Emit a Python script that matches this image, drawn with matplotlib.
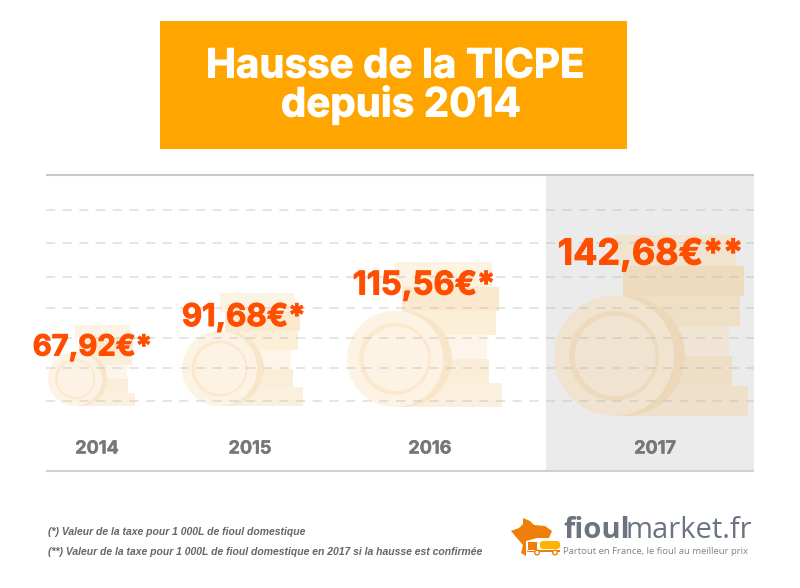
import matplotlib
matplotlib.use("Agg")
import matplotlib.pyplot as plt
import matplotlib.patheffects as pe
from matplotlib.patches import Rectangle, Circle, Polygon, FancyBboxPatch

years = ["2014", "2015", "2016", "2017"]
values = [67.92, 91.68, 115.56, 142.68]
suffixes = ["€*", "€*", "€*", "€**"]
title_lines = ["Hausse de la TICPE", "depuis 2014"]
notes = ["(*) Valeur de la taxe pour 1 000L de fioul domestique",
         "(**) Valeur de la taxe pour 1 000L de fioul domestique en 2017 si la hausse est confirmée"]

# layout in reference pixels
stack_left = [48, 182, 347, 554]
stack_base = [406, 406, 407, 416]
year_x = [97, 250, 430, 655]
label_x = [92.5, 243.5, 424, 650.5]
label_y = [348, 318, 286, 255]
label_size = [21, 22.5, 23.5, 25.8]
grid_y = [210, 243, 277, 308, 338, 368, 401]

FONT = "Inter"
ORANGE = "#FFA500"
RED = "#FF4E00"
GREY = "#777777"

fig = plt.figure(figsize=(8, 5.88), dpi=100)
ax = fig.add_axes([0, 0, 1, 1])
ax.set_xlim(0, 800)
ax.set_ylim(588, 0)
ax.axis("off")


def height_of(v):
    return 1.33 * v - 9


def tint(col, on_grey):
    rgb = matplotlib.colors.to_rgb(col)
    if on_grey:
        return (rgb[0] * .949, rgb[1] * .934, rgb[2] * .912)
    return rgb


def heavy(w, col):
    return [pe.withStroke(linewidth=w, foreground=col)]


# title box
ax.add_patch(Rectangle((160, 21), 467, 128, color=ORANGE, lw=0))
ax.text(395, 67, title_lines[0], color="white", fontsize=29, fontweight="bold",
        family=FONT, ha="center", va="center", path_effects=heavy(0.7, "white"))
ax.text(401, 105, title_lines[1], color="white", fontsize=29, fontweight="bold",
        family=FONT, ha="center", va="center", path_effects=heavy(0.7, "white"))

# highlighted band and rules
ax.add_patch(Rectangle((546, 176), 208, 295, color="#EBEBEB", lw=0, zorder=1))
ax.plot([46, 754], [175, 175], color="#C8C8C8", lw=1.5, zorder=2, solid_capstyle="butt")
ax.plot([46, 754], [471, 471], color="#D0D0D0", lw=1.5, zorder=2, solid_capstyle="butt")

# stack template: (x0, x1, y0, y1, colour), relative to stack height
layers = [
    (.335, 1.071, .000, .165, "#FBF0DE"),
    (.335, .984, .165, .330, "#FBEED8"),
    (.335, .967, .330, .500, "#FDF5EA"),
    (.434, 1.027, .500, .665, "#FCEFD8"),
    (.379, 1.049, .665, .830, "#FBE9CF"),
    (.335, 1.005, .830, 1.000, "#FDF3E3"),
]

for i, v in enumerate(values):
    H = height_of(v)
    x0, base = stack_left[i], stack_base[i]
    g = years[i] == "2017"
    for a, b, c, d, col in layers:
        ax.add_patch(Rectangle((x0 + a * H, base - d * H), (b - a) * H, (d - c) * H,
                               color=tint(col, g), lw=0, zorder=3))
    R = .3325 * H
    cy = base - R
    ax.add_patch(Circle((x0 + R + .06 * H, cy), R, color=tint("#F9E6CA", g), lw=0, zorder=4))
    ax.add_patch(Circle((x0 + R, cy), R, color=tint("#FDF3E4", g), lw=0, zorder=5))
    ax.add_patch(Circle((x0 + R, cy), .248 * H, color=tint("#FAE9CF", g), lw=0, zorder=6))
    ax.add_patch(Circle((x0 + R + .006 * H, cy), .223 * H, color=tint("#FDF3E4", g), lw=0, zorder=7))

# dashed guides
for y in grid_y:
    ax.plot([46, 754], [y, y], color="#B5B5B5", alpha=.42, lw=1.2,
            dashes=(5.5, 4.5), zorder=8)

for i, v in enumerate(values):
    ax.text(label_x[i], label_y[i], f"{v:.2f}".replace(".", ",") + suffixes[i], color=RED,
            fontsize=label_size[i], fontweight="bold", family=FONT,
            ha="center", va="center", zorder=10, path_effects=heavy(0.7, RED))
    ax.text(year_x[i], 449, years[i], color=GREY, fontsize=13, fontweight="bold",
            family=FONT, ha="center", va="center", zorder=10, path_effects=heavy(0.3, GREY))

# footnotes
for y, t in zip([532, 552], notes):
    ax.text(48, y, t, color="#666666", fontsize=7.5, fontweight="bold", style="italic",
            family="Liberation Sans", ha="left", va="center")

# logo
france = [(511, 531), (519, 528), (523, 524), (523, 518), (530, 521), (534, 525), (545, 526),
          (552, 531), (549, 538), (537, 538), (526, 541), (526, 556), (521, 553), (523, 545),
          (516, 537)]
ax.add_patch(Polygon(france, closed=True, color="#F07F09", lw=0, zorder=3))
ax.add_patch(FancyBboxPatch((540, 541), 20, 8, boxstyle="round,pad=0,rounding_size=3",
                            color="#FFB300", lw=0, zorder=4))
ax.add_patch(Rectangle((527, 541), 10, 9, facecolor="#F07F09", edgecolor="white", lw=.7, zorder=5))
ax.add_patch(Rectangle((527, 550), 33, 2, color="#F07F09", lw=0, zorder=4))
for cx in (537, 555):
    ax.add_patch(Circle((cx, 552.5), 2.3, facecolor="white", edgecolor="#F07F09", lw=1, zorder=6))
ax.text(563, 531, "fioul", color="#6B7480", fontsize=21, fontweight="bold",
        family="Open Sans", ha="left", va="center")
ax.text(625, 531, "market.fr", color="#6B7480", fontsize=21,
        family="Open Sans", ha="left", va="center")
ax.text(563, 552, "Partout en France, le fioul au meilleur prix", color="#7B838D", fontsize=6.8,
        family="Open Sans", ha="left", va="center")

fig.savefig("out.png", dpi=100)
